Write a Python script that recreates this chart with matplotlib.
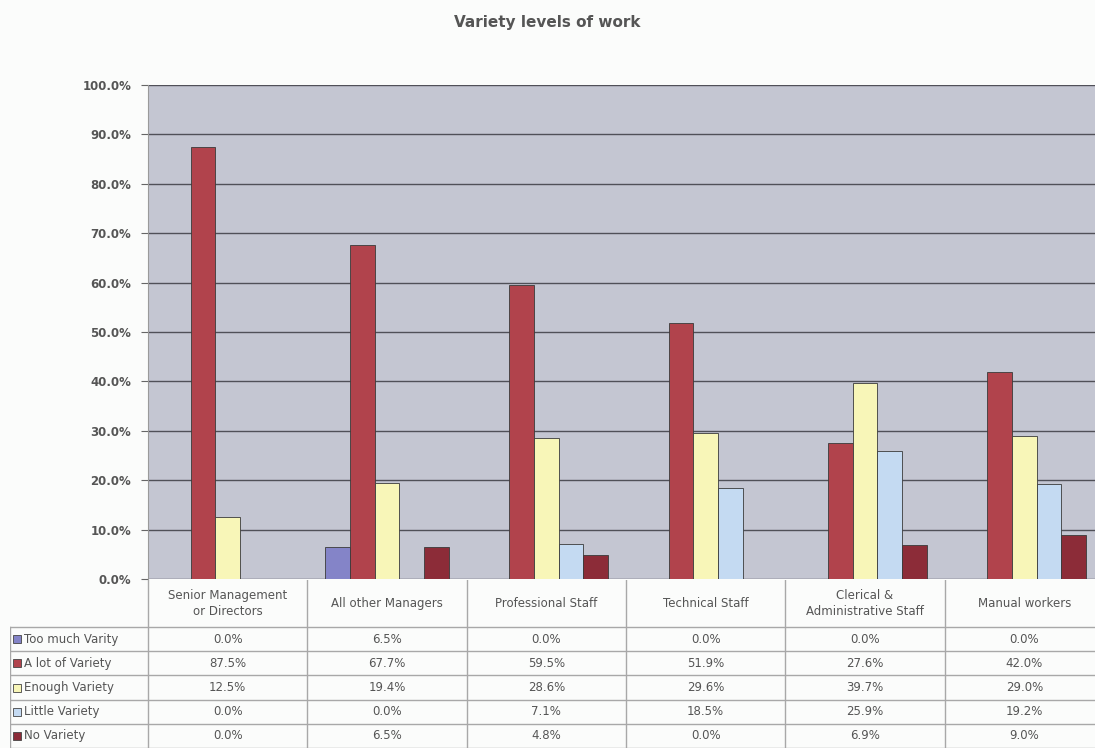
import matplotlib.pyplot as plt
from matplotlib.patches import Rectangle
import numpy as np

plt.rcParams['font.family'] = ['DejaVu Sans']

# data
categories = ['Senior Management\nor Directors', 'All other Managers', 'Professional Staff',
              'Technical Staff', 'Clerical &\nAdministrative Staff', 'Manual workers']
series = ['Too much Varity', 'A lot of Variety', 'Enough Variety', 'Little Variety', 'No Variety']
too_much = [0.0, 6.5, 0.0, 0.0, 0.0, 0.0]
a_lot = [87.5, 67.7, 59.5, 51.9, 27.6, 42.0]
enough = [12.5, 19.4, 28.6, 29.6, 39.7, 29.0]
little = [0.0, 0.0, 7.1, 18.5, 25.9, 19.2]
no_var = [0.0, 6.5, 4.8, 0.0, 6.9, 9.0]
yticks = [0, 10, 20, 30, 40, 50, 60, 70, 80, 90, 100]

values = [too_much, a_lot, enough, little, no_var]
colors = ['#8484c8', '#b1434c', '#f8f6b8', '#c4daf2', '#8c2c38']

W, H = 1095, 748
fig = plt.figure(figsize=(W / 100, H / 100), dpi=100)
fig.patch.set_facecolor('#fbfcfb')

# plot area geometry (pixels)
px_left, px_right, px_top, px_zero = 148, 1104, 85, 579
col_w = (px_right - px_left) / len(categories)

ax = fig.add_axes([px_left / W, 1 - px_zero / H, (px_right - px_left) / W, (px_zero - px_top) / H])
ax.set_facecolor('#c4c6d2')
ax.set_xlim(0, len(categories))
ax.set_ylim(0, 100)
ax.set_yticks(yticks)
ax.set_yticklabels([f'{v:.1f}%' for v in yticks], fontsize=8.5, color='#555555', fontweight='bold')
ax.tick_params(axis='y', length=5, color='#666666', pad=7)
ax.set_xticks([])
ax.yaxis.grid(True, color='#505058', linewidth=1.0)
ax.set_axisbelow(True)
for s in ['top', 'right', 'bottom']:
    ax.spines[s].set_visible(False)
ax.spines['left'].set_color('#9a9a9a')

x = np.arange(len(categories))
bw = 0.155
for k, (vals, c) in enumerate(zip(values, colors)):
    ax.bar(x + 0.5 + (k - 2) * bw, vals, bw, color=c, edgecolor='#3a3a3a', linewidth=0.6, zorder=3)

fig.text(0.5, 1 - 22 / H, 'Variety levels of work', ha='center', va='center',
         fontsize=11, fontweight='bold', color='#555555')

# data table below
tab_left, tab_top, tab_bottom = 10, 580, 748
tab = fig.add_axes([tab_left / W, 0, (px_right - tab_left) / W, (tab_bottom - tab_top) / H])
tab.set_xlim(-(px_left - tab_left) / col_w, len(categories))
tab.set_ylim(tab_bottom - tab_top, 0)
tab.axis('off')

head_h = 47
row_h = (tab_bottom - tab_top - head_h) / len(series)
lc = '#a8a8a8'
x0 = -(px_left - tab_left) / col_w
fs = 8.5

for i, name in enumerate(categories):
    tab.text(i + 0.5, head_h / 2, name, ha='center', va='center', fontsize=fs,
             color='#555555', linespacing=1.25)
for i in range(len(categories) + 1):
    tab.plot([i, i], [0, tab_bottom - tab_top], color=lc, lw=1)
tab.plot([x0, x0], [head_h, tab_bottom - tab_top], color=lc, lw=1)
for r in range(len(series) + 1):
    y = head_h + r * row_h
    tab.plot([x0, len(categories)], [y, y], color=lc, lw=1)

key_w = 8 / col_w
for r, (name, vals, c) in enumerate(zip(series, values, colors)):
    yc = head_h + (r + 0.5) * row_h
    tab.add_patch(Rectangle((x0 + 3 / col_w, yc - 4), key_w, 8, facecolor=c,
                            edgecolor='#444444', lw=0.6))
    tab.text(x0 + 14 / col_w, yc, name, ha='left', va='center', fontsize=fs, color='#555555')
    for i, v in enumerate(vals):
        tab.text(i + 0.5, yc, f'{v:.1f}%', ha='center', va='center', fontsize=fs, color='#555555')

fig.savefig('out.png', dpi=100, facecolor=fig.get_facecolor())
